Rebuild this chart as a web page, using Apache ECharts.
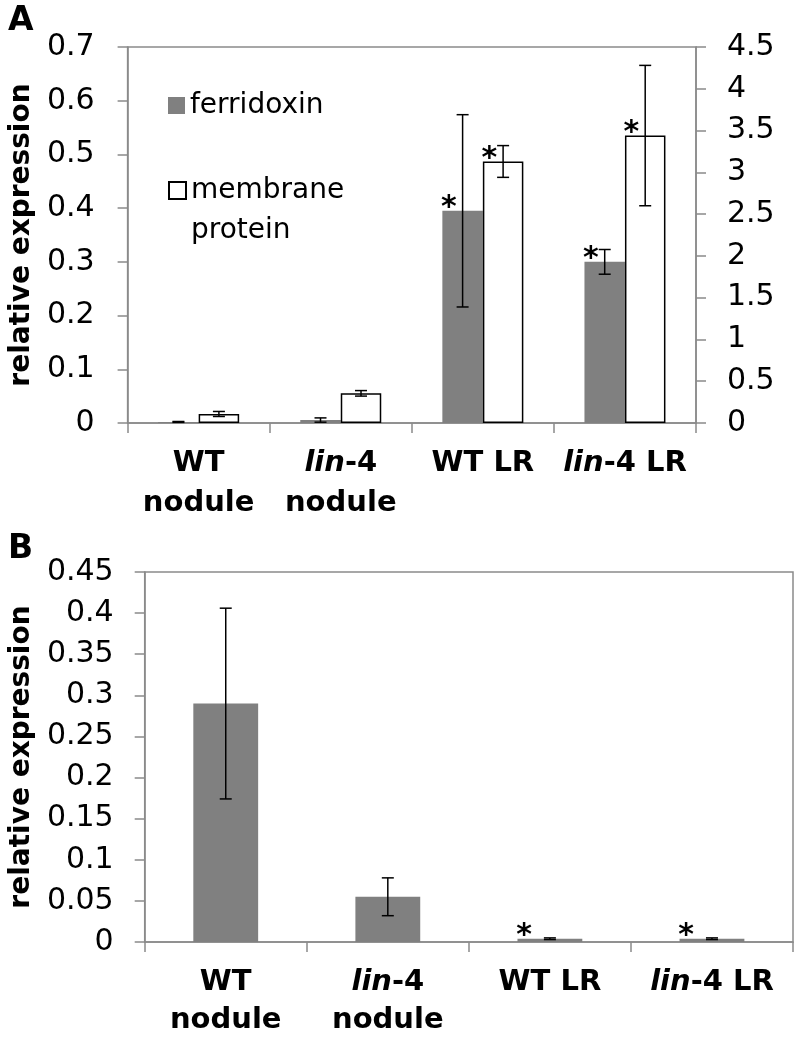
<!DOCTYPE html>
<html>
<head>
<meta charset="utf-8">
<script src="https://cdn.jsdelivr.net/npm/echarts@6/dist/echarts.min.js"></script>
<style>html,body{margin:0;padding:0;background:#fff}#c{width:797px;height:1037px}</style>
</head>
<body>
<div id="c"></div>
<script>
// ---------- data ----------
const categories = ['WT\nnodule', 'lin-4\nnodule', 'WT LR', 'lin-4 LR'];
// Panel A
const ferridoxinA = [0.002, 0.0055, 0.395, 0.300];
const ferridoxinErrA = [0.0008, 0.004, 0.179, 0.023];
const ferridoxinSigA = [0, 0, 1, 1];
const membraneA = [0.108, 0.355, 3.13, 3.44];
const membraneErrA = [0.03, 0.033, 0.19, 0.84];
const membraneSigA = [0, 0, 1, 1];
// Panel B
const ferridoxinB = [0.29, 0.055, 0.004, 0.004];
const ferridoxinErrB = [0.116, 0.023, 0.001, 0.001];
const ferridoxinSigB = [0, 0, 1, 1];
// axis scales
const leftAxisA = { min: 0, max: 0.7, interval: 0.1 };
const rightAxisA = { min: 0, max: 4.5, interval: 0.5 };
const axisB = { min: 0, max: 0.45, interval: 0.05 };
const legendNames = ['ferridoxin', 'membrane protein'];
const axisName = 'relative expression';

// ---------- style ----------
const FONT = 'DejaVu Sans';
const GRAY = '#808080';
const AXIS = '#8a8a8a';

function catLabel(v) {
  return v.split('\n').map(function (line) {
    return line.indexOf('lin') === 0 ? '{i|lin}{b|' + line.slice(3) + '}' : '{b|' + line + '}';
  }).join('\n');
}
function richFor(lh) {
  return {
    b: { fontFamily: FONT, fontWeight: 'bold', fontSize: 29, lineHeight: lh, color: '#000' },
    i: { fontFamily: FONT, fontWeight: 'bold', fontStyle: 'italic', fontSize: 29, lineHeight: lh, color: '#000' }
  };
}
function xAxisCfg(gridIndex, margin, lh) {
  return {
    type: 'category', gridIndex: gridIndex, data: categories,
    axisLine: { lineStyle: { color: AXIS, width: 1.5 } },
    axisTick: { show: true, length: 10, interval: 0, lineStyle: { color: AXIS, width: 1.5 } },
    axisLabel: { interval: 0, margin: margin, formatter: catLabel, rich: richFor(lh) },
    splitLine: { show: false }
  };
}
function yAxisCfg(gridIndex, sc, pos, margin, name, nameGap) {
  const o = {
    type: 'value', gridIndex: gridIndex, position: pos,
    min: sc.min, max: sc.max, interval: sc.interval,
    axisLine: { show: true, lineStyle: { color: AXIS, width: 1.5 } },
    axisTick: { show: true, length: 10, lineStyle: { color: AXIS, width: 1.5 } },
    axisLabel: { margin: margin, fontFamily: FONT, fontSize: 30, color: '#000' },
    splitLine: { show: false }
  };
  if (name) {
    o.name = name; o.nameLocation = 'middle'; o.nameGap = nameGap;
    o.nameTextStyle = { fontFamily: FONT, fontWeight: 'bold', fontSize: 28, color: '#000' };
  }
  return o;
}
function errorSeries(xi, yi, vals, errs, sig, offFrac, halfFrac) {
  return {
    type: 'custom', xAxisIndex: xi, yAxisIndex: yi, z: 10, silent: true,
    data: vals.map(function (v, i) { return [i, v, errs[i], sig[i]]; }),
    encode: { x: 0, y: 1 },
    renderItem: function (params, api) {
      const i = api.value(0), v = api.value(1), e = api.value(2), s = api.value(3);
      const band = api.size([1, 0])[0];
      const top = api.coord([i, v]);
      const x = top[0] + offFrac * band;
      const yHi = api.coord([i, v + e])[1];
      const yLo = api.coord([i, Math.max(0, v - e)])[1];
      const barLeft = x - halfFrac * band;
      const st = { stroke: '#000', lineWidth: 1.5 };
      const ch = [
        { type: 'line', shape: { x1: x, y1: yHi, x2: x, y2: yLo }, style: st },
        { type: 'line', shape: { x1: x - 6, y1: yHi, x2: x + 6, y2: yHi }, style: st },
        { type: 'line', shape: { x1: x - 6, y1: yLo, x2: x + 6, y2: yLo }, style: st }
      ];
      if (s) {
        ch.push({ type: 'text', style: { text: '*', x: barLeft + 6.5, y: top[1] - 2.5,
          fontSize: 30, fontWeight: 'bold', fontFamily: FONT, fill: '#000',
          align: 'center', verticalAlign: 'middle' } });
      }
      return { type: 'group', children: ch };
    }
  };
}

const chart = echarts.init(document.getElementById('c'));
chart.setOption({
  animation: false,
  backgroundColor: '#fff',
  title: [
    { text: 'A', left: 8, top: 5, padding: 0, textStyle: { fontFamily: FONT, fontWeight: 'bold', fontSize: 33, color: '#000' } },
    { text: 'B', left: 8, top: 533, padding: 0, textStyle: { fontFamily: FONT, fontWeight: 'bold', fontSize: 33, color: '#000' } }
  ],
  legend: [
    { data: [legendNames[0]], left: 168, top: 88.5, orient: 'vertical', padding: 0,
      itemWidth: 17, itemHeight: 17, selectedMode: false, icon: 'rect',
      textStyle: { fontFamily: FONT, fontSize: 28, lineHeight: 34, color: '#000' } },
    { data: [legendNames[1]], left: 168, top: 170.5,
      orient: 'vertical', padding: 0, itemWidth: 17, itemHeight: 57, selectedMode: false,
      icon: 'path://M0,0L17,0L17,17L0,17Z M0,57',
      formatter: function (n) { return n.replace(' ', '\n'); },
      textStyle: { fontFamily: FONT, fontSize: 28, lineHeight: 40, color: '#000' } }
  ],
  grid: [
    { left: 123, top: 47, width: 573, height: 376, show: true, borderColor: AXIS, borderWidth: 1.5, containLabel: false },
    { left: 138, top: 572, width: 655, height: 370, show: true, borderColor: AXIS, borderWidth: 1.5, containLabel: false }
  ],
  xAxis: [xAxisCfg(0, 20, 40), xAxisCfg(1, 21, 38)],
  yAxis: [
    yAxisCfg(0, leftAxisA, 'left', 33, axisName, 87),
    yAxisCfg(0, rightAxisA, 'right', 31, null, 0),
    yAxisCfg(1, axisB, 'left', 31, axisName, 102)
  ],
  series: [
    { type: 'bar', name: legendNames[0], xAxisIndex: 0, yAxisIndex: 0, data: ferridoxinA,
      barGap: '0%', barCategoryGap: '43%', itemStyle: { color: GRAY } },
    { type: 'bar', name: legendNames[1], xAxisIndex: 0, yAxisIndex: 1, data: membraneA,
      barGap: '0%', barCategoryGap: '43%', itemStyle: { color: '#fff', borderColor: '#000', borderWidth: 1.5 } },
    errorSeries(0, 0, ferridoxinA, ferridoxinErrA, ferridoxinSigA, -0.1425, 0.1425),
    errorSeries(0, 1, membraneA, membraneErrA, membraneSigA, 0.1425, 0.1425),
    { type: 'bar', name: 'ferridoxin (B)', xAxisIndex: 1, yAxisIndex: 2, data: ferridoxinB,
      barCategoryGap: '60%', itemStyle: { color: GRAY } },
    errorSeries(1, 2, ferridoxinB, ferridoxinErrB, ferridoxinSigB, 0, 0.2)
  ]
});
</script>
</body>
</html>
